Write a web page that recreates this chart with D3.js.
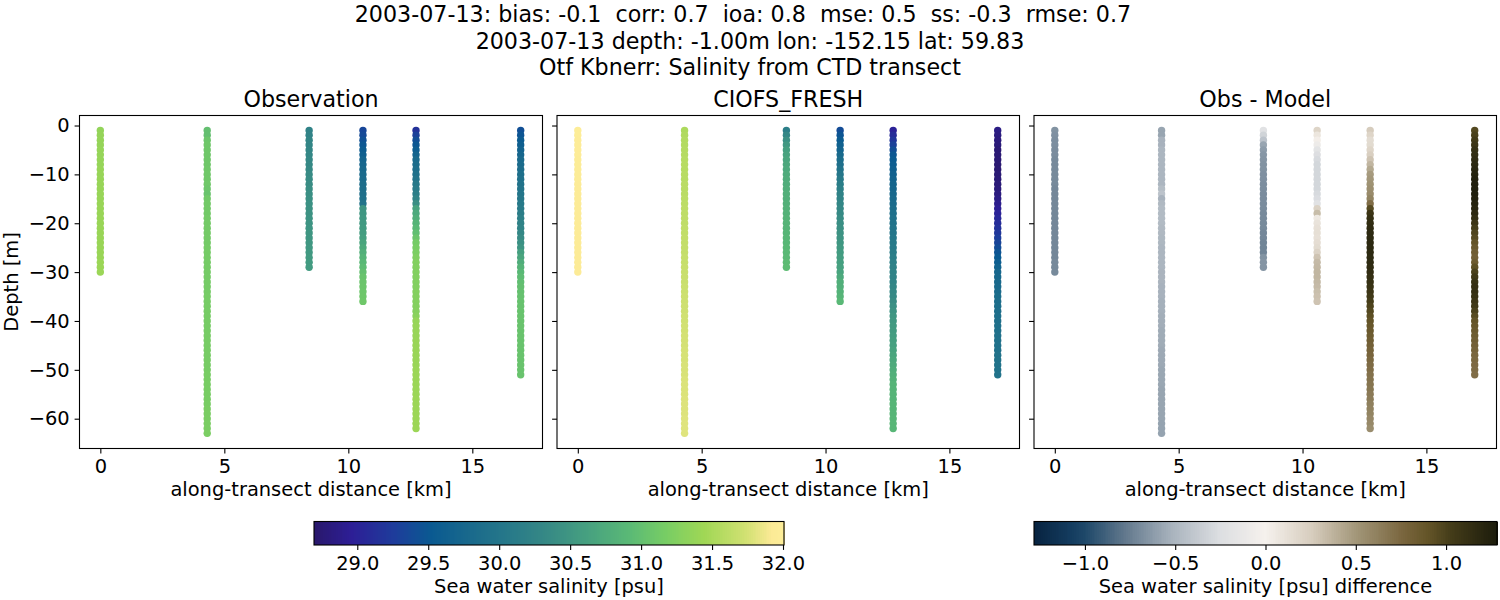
<!DOCTYPE html>
<html>
<head>
<meta charset="utf-8">
<script src="https://cdn.jsdelivr.net/npm/d3@7"></script>
<style>
  html, body { margin: 0; padding: 0; background: #fff; }
  text { font-family: "DejaVu Sans"; fill: #000; }
</style>
</head>
<body>
<svg id="chart" width="1500" height="600"></svg>
<script>
// station positions along the transect [km] and their deepest sample [m]
const stationDistance = [0, 4.31, 8.42, 10.59, 12.73, 16.95];

// salinity profiles, first value at -1 m and then one value per metre
const obsS1 = [31.36,31.37,31.37,31.37,31.38,31.38,31.38,31.38,31.39,31.39,31.39,31.39,31.39,31.39,31.39,31.4,31.4,31.4,31.4,31.4,31.4,31.4,31.4,31.4,31.4,31.4,31.4,31.41,31.41,31.41];
const obsS2 = [31.0,31.0,31.08,31.1,31.1,31.1,31.1,31.1,31.11,31.11,31.11,31.11,31.08,31.05,31.12,31.13,31.13,31.13,31.14,31.14,31.14,31.14,31.14,31.14,31.15,31.15,31.15,31.15,31.15,31.15,31.15,31.15,31.15,31.15,31.16,31.16,31.16,31.16,31.16,31.16,31.16,31.16,31.17,31.17,31.17,31.17,31.17,31.17,31.17,31.17,31.18,31.18,31.18,31.18,31.18,31.18,31.18,31.19,31.19,31.19,31.19,31.19,31.2];
const obsS3 = [30.22,30.24,30.26,30.27,30.28,30.3,30.31,30.32,30.34,30.36,30.37,30.38,30.4,30.41,30.42,30.43,30.44,30.45,30.46,30.47,30.48,30.49,30.5,30.51,30.52,30.53,30.54,30.55,30.56];
const obsS4 = [29.35,29.38,29.44,29.5,29.55,29.62,29.7,29.74,29.77,29.8,29.83,29.86,29.88,29.9,29.93,29.96,30.48,30.5,30.52,30.53,30.55,30.58,30.62,30.68,30.74,30.8,30.85,30.9,30.95,31.0,31.05,31.06,31.07,31.08,31.09,31.1];
const obsS5 = [29.15,29.3,29.42,29.5,29.6,29.7,29.8,29.84,29.88,29.92,29.98,30.05,30.1,30.16,30.25,30.4,30.65,30.72,30.78,30.84,30.9,30.98,31.06,31.15,31.18,31.2,31.23,31.25,31.25,31.25,31.25,31.25,31.25,31.26,31.26,31.26,31.26,31.27,31.3,31.38,31.39,31.39,31.39,31.4,31.4,31.4,31.4,31.4,31.4,31.41,31.41,31.41,31.41,31.41,31.41,31.42,31.42,31.42,31.42,31.42,31.42,31.42];
const obsS6 = [29.43,29.48,29.55,29.62,29.68,29.74,29.8,29.83,29.86,29.89,29.92,29.95,29.98,30.0,30.04,30.07,30.1,30.14,30.18,30.22,30.25,30.3,30.36,30.42,30.48,30.6,30.68,30.76,30.84,30.9,30.95,30.98,31.0,31.01,31.02,31.03,31.03,31.04,31.04,31.05,31.05,31.05,31.05,31.05,31.05,31.05,31.05,31.05,31.05,31.05,31.05];

const modelS1 = [31.98,31.98,31.97,31.97,31.97,31.97,31.96,31.96,31.96,31.96,31.96,31.95,31.95,31.95,31.95,31.95,31.95,31.95,31.95,31.95,31.95,31.95,31.95,31.94,31.94,31.94,31.94,31.94,31.94,31.94];
const modelS2 = [31.52,31.54,31.56,31.56,31.57,31.57,31.58,31.58,31.58,31.59,31.59,31.6,31.6,31.6,31.61,31.61,31.62,31.62,31.63,31.63,31.64,31.64,31.65,31.65,31.66,31.66,31.67,31.67,31.68,31.68,31.69,31.69,31.7,31.7,31.71,31.71,31.72,31.72,31.73,31.73,31.74,31.74,31.75,31.75,31.75,31.76,31.76,31.76,31.77,31.77,31.77,31.78,31.78,31.78,31.78,31.79,31.79,31.79,31.79,31.8,31.8,31.8,31.8];
const modelS3 = [30.15,30.3,30.42,30.52,30.6,30.64,30.67,30.7,30.72,30.75,30.76,30.77,30.78,30.79,30.8,30.81,30.82,30.83,30.84,30.85,30.86,30.87,30.88,30.89,30.9,30.91,30.92,30.94,30.95];
const modelS4 = [29.4,29.48,29.56,29.64,29.7,29.78,29.85,29.9,29.96,30.02,30.08,30.13,30.18,30.22,30.25,30.28,30.31,30.34,30.37,30.4,30.42,30.45,30.47,30.5,30.53,30.55,30.58,30.6,30.63,30.66,30.72,30.78,30.8,30.83,30.86,30.9];
const modelS5 = [29.0,29.1,29.2,29.3,29.42,29.5,29.54,29.58,29.62,29.65,29.68,29.71,29.74,29.77,29.8,29.83,29.86,29.89,29.92,29.95,29.98,30.0,30.03,30.06,30.09,30.12,30.15,30.18,30.21,30.23,30.24,30.25,30.28,30.31,30.34,30.38,30.42,30.46,30.5,30.52,30.54,30.56,30.58,30.6,30.62,30.65,30.68,30.71,30.74,30.77,30.8,30.82,30.85,30.85,30.86,30.86,30.87,30.87,30.87,30.88,30.88,30.88];
const modelS6 = [28.85,28.82,28.8,28.78,28.75,28.75,28.75,28.74,28.74,28.75,28.76,28.77,28.79,28.81,28.85,28.9,28.95,29.0,29.05,29.1,29.15,29.2,29.27,29.33,29.4,29.47,29.53,29.6,29.68,29.75,29.77,29.79,29.81,29.83,29.85,29.86,29.87,29.88,29.89,29.9,29.91,29.91,29.92,29.92,29.93,29.93,29.94,29.94,29.95,29.95,29.95];

const diffS1 = [-0.66,-0.67,-0.68,-0.68,-0.69,-0.69,-0.7,-0.7,-0.7,-0.7,-0.7,-0.7,-0.71,-0.71,-0.71,-0.71,-0.71,-0.71,-0.71,-0.71,-0.71,-0.71,-0.71,-0.71,-0.71,-0.71,-0.71,-0.7,-0.7,-0.7];
const diffS2 = [-0.58,-0.58,-0.52,-0.52,-0.5,-0.5,-0.5,-0.5,-0.5,-0.5,-0.5,-0.5,-0.46,-0.42,-0.52,-0.48,-0.47,-0.47,-0.47,-0.47,-0.48,-0.48,-0.49,-0.49,-0.5,-0.5,-0.5,-0.5,-0.5,-0.51,-0.51,-0.51,-0.52,-0.52,-0.52,-0.53,-0.53,-0.53,-0.54,-0.54,-0.54,-0.55,-0.55,-0.55,-0.55,-0.56,-0.56,-0.56,-0.56,-0.57,-0.57,-0.57,-0.57,-0.58,-0.58,-0.58,-0.58,-0.58,-0.58,-0.58,-0.59,-0.59,-0.59];
const diffS3 = [-0.2,-0.32,-0.42,-0.58,-0.62,-0.64,-0.65,-0.66,-0.66,-0.67,-0.67,-0.68,-0.68,-0.69,-0.69,-0.69,-0.69,-0.7,-0.7,-0.7,-0.7,-0.71,-0.71,-0.72,-0.72,-0.72,-0.66,-0.65,-0.65];
const diffS4 = [0.2,0.08,0.02,-0.08,-0.18,-0.25,-0.28,-0.3,-0.3,-0.3,-0.3,-0.3,-0.3,-0.28,-0.26,-0.2,0.22,0.33,0.06,0.1,0.12,0.13,0.12,0.14,0.16,0.22,0.3,0.34,0.35,0.36,0.36,0.35,0.34,0.32,0.31,0.3];
const diffS5 = [0.26,0.2,0.15,0.16,0.2,0.24,0.3,0.36,0.42,0.48,0.5,0.52,0.54,0.56,0.6,0.72,0.95,1.08,1.12,1.14,1.16,1.17,1.18,1.18,1.18,1.18,1.17,1.17,1.16,1.15,1.13,1.12,1.1,1.08,1.05,1.02,0.99,0.96,0.93,0.9,0.88,0.86,0.84,0.82,0.8,0.78,0.77,0.75,0.73,0.72,0.7,0.69,0.68,0.67,0.65,0.64,0.62,0.61,0.6,0.58,0.57,0.55];
const diffS6 = [0.96,1.0,1.04,1.08,1.12,1.14,1.16,1.18,1.2,1.22,1.24,1.25,1.25,1.25,1.24,1.22,1.2,1.18,1.14,1.08,1.02,0.98,0.95,0.9,0.86,0.82,0.8,0.84,0.92,1.0,1.06,1.1,1.12,1.12,1.1,1.08,1.05,1.0,0.95,0.9,0.88,0.86,0.84,0.82,0.8,0.78,0.76,0.75,0.74,0.73,0.72];

const obsProfiles = [obsS1, obsS2, obsS3, obsS4, obsS5, obsS6];
const modelProfiles = [modelS1, modelS2, modelS3, modelS4, modelS5, modelS6];
const diffProfiles = [diffS1, diffS2, diffS3, diffS4, diffS5, diffS6];

const panelTitles = ['Observation', 'CIOFS_FRESH', 'Obs - Model'];
const xTicks = [0, 5, 10, 15];
const yTicks = [0, -10, -20, -30, -40, -50, -60];
const salinityTicks = [29, 29.5, 30, 30.5, 31, 31.5, 32];
const diffTicks = [-1, -0.5, 0, 0.5, 1];
const headerLines = [
  '2003-07-13: bias: -0.1  corr: 0.7  ioa: 0.8  mse: 0.5  ss: -0.3  rmse: 0.7  ',
  '2003-07-13 depth: -1.00m lon: -152.15 lat: 59.83',
  'Otf Kbnerr: Salinity from CTD transect'
];

// colormaps
const halineStops = [0, 0.08, 0.17, 0.25, 0.33, 0.42, 0.5, 0.58, 0.67, 0.75, 0.83, 0.92, 0.975, 1];
const halineColors = ['#29186b', '#2d1e96', '#1e3c9b', '#0a5a91', '#19698c', '#287a89', '#378a85', '#46a080', '#5ab976', '#78cd64', '#a0d755', '#d2e173', '#fcea96', '#fdee99'];
const diffStops = [0, 0.08, 0.11, 0.2, 0.3, 0.4, 0.5, 0.6, 0.7, 0.8, 0.85, 0.9, 1];
const diffColors = ['#072340', '#143c5f', '#1e4869', '#647a8e', '#aab4be', '#dcdee1', '#f5f1ed', '#d7cdbe', '#a09476', '#78643c', '#645528', '#443c19', '#1c1c0c'];

const halineMap = d3.scaleLinear().domain(halineStops).range(halineColors).interpolate(d3.interpolateRgb);
const diffMap = d3.scaleLinear().domain(diffStops).range(diffColors).interpolate(d3.interpolateRgb);
const salinityNorm = d3.scaleLinear().domain([28.695, 32.007]).range([0, 1]);
const diffNorm = d3.scaleLinear().domain([-1.282, 1.282]).range([0, 1]);
const salinityColor = v => halineMap(salinityNorm(v));
const diffColor = v => diffMap(diffNorm(v));

const svg = d3.select('#chart');
const tickFont = 19.44, titleFont = 22.2;

svg.selectAll('.header')
  .data(headerLines)
  .enter()
  .append('text')
  .attr('class', 'header')
  .attr('x', 750)
  .attr('y', (d, i) => 22 + i * 26.6)
  .attr('text-anchor', 'middle')
  .attr('font-size', titleFont)
  .style('white-space', 'pre')
  .text(d => d);

const panels = [
  { left: 79.5, right: 542.5, profiles: obsProfiles, color: salinityColor },
  { left: 557, right: 1019.5, profiles: modelProfiles, color: salinityColor },
  { left: 1034, right: 1496.5, profiles: diffProfiles, color: diffColor }
];
const plotTop = 115.5, plotBottom = 448.5;
const y = d3.scaleLinear().domain([2.05, -66.1]).range([plotTop, plotBottom]);

function styleAxis(g) {
  g.select('.domain').remove();
  g.selectAll('line').attr('stroke', '#000').attr('stroke-width', 1.1);
  g.selectAll('text').attr('font-size', tickFont).attr('fill', '#000');
}

panels.forEach((p, pi) => {
  const x = d3.scaleLinear().domain([-0.84, 17.83]).range([p.left, p.right]);
  const g = svg.append('g');

  p.profiles.forEach((values, si) => {
    g.append('g').selectAll('circle')
      .data(values)
      .enter()
      .append('circle')
      .attr('cx', x(stationDistance[si]))
      .attr('cy', (d, i) => y(-(i + 1)))
      .attr('r', 3.7)
      .attr('fill', d => p.color(d));
  });

  g.append('rect')
    .attr('x', p.left).attr('y', plotTop)
    .attr('width', p.right - p.left).attr('height', plotBottom - plotTop)
    .attr('fill', 'none').attr('stroke', '#000').attr('stroke-width', 1.1);

  g.append('g')
    .attr('transform', `translate(0,${plotBottom})`)
    .call(d3.axisBottom(x).tickValues(xTicks).tickSize(4.9).tickPadding(6))
    .call(styleAxis);

  const yAxis = d3.axisLeft(y).tickValues(yTicks).tickSize(4.9).tickPadding(4.9);
  if (pi > 0) yAxis.tickFormat('');
  g.append('g')
    .attr('transform', `translate(${p.left},0)`)
    .call(yAxis)
    .call(styleAxis);

  g.append('text')
    .attr('x', (p.left + p.right) / 2)
    .attr('y', 107)
    .attr('text-anchor', 'middle')
    .attr('font-size', titleFont)
    .text(panelTitles[pi]);

  g.append('text')
    .attr('x', (p.left + p.right) / 2)
    .attr('y', 496)
    .attr('text-anchor', 'middle')
    .attr('font-size', tickFont)
    .text('along-transect distance [km]');
});

svg.append('text')
  .attr('transform', `translate(18,${(plotTop + plotBottom) / 2}) rotate(-90)`)
  .attr('text-anchor', 'middle')
  .attr('font-size', tickFont)
  .text('Depth [m]');

function colorbar(left, right, domain, ticks, color, label, fmt) {
  const barTop = 521.5, barBottom = 545;
  const scale = d3.scaleLinear().domain(domain).range([left, right]);
  const g = svg.append('g');
  const steps = d3.range(256);
  const step = (domain[1] - domain[0]) / 256;
  g.selectAll('rect.cell')
    .data(steps)
    .enter()
    .append('rect')
    .attr('class', 'cell')
    .attr('x', d => scale(domain[0] + d * step))
    .attr('y', barTop)
    .attr('width', (right - left) / 256 + 0.5)
    .attr('height', barBottom - barTop)
    .attr('shape-rendering', 'crispEdges')
    .attr('fill', d => color(domain[0] + (d + 0.5) * step));
  g.append('rect')
    .attr('x', left).attr('y', barTop)
    .attr('width', right - left).attr('height', barBottom - barTop)
    .attr('fill', 'none').attr('stroke', '#000').attr('stroke-width', 1.1);
  g.append('g')
    .attr('transform', `translate(0,${barBottom})`)
    .call(d3.axisBottom(scale).tickValues(ticks).tickSize(4.9).tickPadding(6).tickFormat(fmt))
    .call(styleAxis);
  g.append('text')
    .attr('x', (left + right) / 2)
    .attr('y', 593)
    .attr('text-anchor', 'middle')
    .attr('font-size', tickFont)
    .text(label);
}

colorbar(314, 784, [28.695, 32.007], salinityTicks, salinityColor, 'Sea water salinity [psu]', d3.format('.1f'));
colorbar(1034, 1497, [-1.282, 1.282], diffTicks, diffColor, 'Sea water salinity [psu] difference', d3.format('.1f'));
</script>
</body>
</html>
